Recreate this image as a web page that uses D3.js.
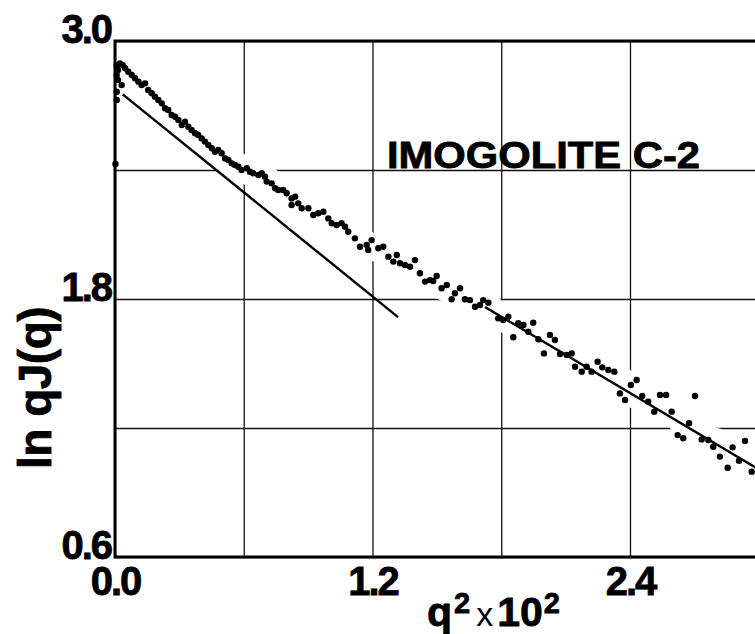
<!DOCTYPE html>
<html>
<head>
<meta charset="utf-8">
<script src="https://cdn.jsdelivr.net/npm/d3@7/dist/d3.min.js"></script>
<style>
  body { margin: 0; background: #fff; }
  svg { display: block; }
  text { font-family: "Liberation Sans", Arial, Helvetica, sans-serif; fill: #000; }
  .heavy { stroke: #000; stroke-width: 0.8px; }
</style>
</head>
<body>
<svg class="chart"></svg>
<script>
// q^2 x 10^2 vs ln qJ(q)
var points = [
    [0.002, 2.428], [0.008, 2.888], [0.023, 2.896], [0.036, 2.888], [0.014, 2.865],
    [0.008, 2.842], [0.014, 2.819], [0.031, 2.795], [0.008, 2.764], [0.008, 2.726],
    [0.047, 2.873], [0.062, 2.857], [0.078, 2.842], [0.093, 2.827], [0.109, 2.811],
    [0.124, 2.795], [0.140, 2.803], [0.155, 2.772], [0.171, 2.757], [0.186, 2.741],
    [0.202, 2.726], [0.218, 2.710], [0.233, 2.687], [0.248, 2.679], [0.264, 2.656],
    [0.280, 2.648], [0.295, 2.633], [0.311, 2.609], [0.326, 2.625], [0.342, 2.601],
    [0.357, 2.586], [0.373, 2.571], [0.388, 2.563], [0.404, 2.547], [0.419, 2.532],
    [0.435, 2.516], [0.451, 2.501], [0.466, 2.485], [0.481, 2.493], [0.497, 2.478],
    [0.513, 2.454], [0.528, 2.447], [0.544, 2.431], [0.559, 2.423], [0.575, 2.415],
    [0.590, 2.400], [0.614, 2.408], [0.629, 2.392], [0.644, 2.385], [0.668, 2.377],
    [0.684, 2.385], [0.699, 2.369], [0.707, 2.346], [0.730, 2.338], [0.746, 2.315],
    [0.761, 2.307], [0.784, 2.307], [0.800, 2.292], [0.823, 2.268], [0.839, 2.276],
    [0.823, 2.237], [0.854, 2.245], [0.870, 2.222], [0.901, 2.222], [0.924, 2.191],
    [0.947, 2.199], [0.971, 2.206], [0.994, 2.175], [1.010, 2.152], [1.033, 2.144],
    [1.056, 2.152], [1.072, 2.136], [1.087, 2.113], [1.118, 2.082], [1.142, 2.043],
    [1.173, 2.051], [1.180, 2.028], [1.196, 2.074], [1.227, 2.036], [1.250, 2.043],
    [1.274, 1.997], [1.297, 1.974], [1.313, 2.005], [1.328, 1.966], [1.351, 1.958],
    [1.375, 1.950], [1.398, 1.981], [1.421, 1.920], [1.445, 1.881], [1.468, 1.888],
    [1.483, 1.884], [1.499, 1.907], [1.522, 1.850], [1.546, 1.865], [1.569, 1.799],
    [1.584, 1.827], [1.608, 1.850], [1.631, 1.799], [1.654, 1.795], [1.678, 1.764],
    [1.701, 1.772], [1.716, 1.795], [1.740, 1.783], [1.786, 1.710], [1.809, 1.702],
    [1.833, 1.718], [1.856, 1.622], [1.879, 1.687], [1.903, 1.679], [1.926, 1.648],
    [1.949, 1.690], [1.973, 1.613], [1.999, 1.547], [2.027, 1.633], [2.050, 1.609],
    [2.074, 1.544], [2.105, 1.540], [2.128, 1.547], [2.144, 1.485], [2.175, 1.462],
    [2.198, 1.485], [2.221, 1.462], [2.249, 1.508], [2.271, 1.482], [2.299, 1.470],
    [2.327, 1.462], [2.353, 1.361], [2.377, 1.330], [2.404, 1.400], [2.431, 1.423],
    [2.457, 1.349], [2.485, 1.322], [2.513, 1.276], [2.540, 1.354], [2.568, 1.354],
    [2.594, 1.276], [2.622, 1.167], [2.648, 1.152], [2.675, 1.222], [2.703, 1.349],
    [2.734, 1.147], [2.765, 1.144], [2.788, 1.113], [2.819, 1.067], [2.855, 1.015],
    [2.878, 1.110], [2.908, 1.048], [2.936, 1.140], [2.967, 0.997]
];

// straight-line fits drawn on the plot
var smallQFit = [[0.036, 2.752], [1.319, 1.716]];
var largeQFit = [[1.724, 1.763], [2.985, 1.017]];

var xGrid = [0, 0.6, 1.2, 1.8, 2.4, 3.0];
var yGrid = [0.6, 1.2, 1.8, 2.4, 3.0];
var xLabels = [0, 1.2, 2.4];
var yLabels = [0.6, 1.8, 3.0];

var width = 755;
var height = 634;
var plotLeft = 115, plotTop = 41, plotBottom = 557;
var plotRight = plotLeft + 643.75;

var svg = d3.select(".chart")
    .attr("width", width)
    .attr("height", height);

var x = d3.scaleLinear().domain([0, 3.0]).range([plotLeft, plotRight]);
var y = d3.scaleLinear().domain([0.6, 3.0]).range([plotBottom, plotTop]);

// grid
var xAxis = d3.axisBottom(x)
    .tickValues(xGrid)
    .tickSize(-(plotBottom - plotTop))
    .tickFormat(function(d){
        return xLabels.indexOf(d) >= 0 ? d.toFixed(1) : "";
    });
var yAxis = d3.axisLeft(y)
    .tickValues(yGrid)
    .tickSize(-(plotRight - plotLeft))
    .tickFormat(function(d){
        return yLabels.indexOf(d) >= 0 ? d.toFixed(1) : "";
    });

var gx = svg.append("g")
    .attr("transform", "translate(0," + plotBottom + ")")
    .call(xAxis);
var gy = svg.append("g")
    .attr("transform", "translate(" + plotLeft + ",0)")
    .call(yAxis);

[gx, gy].forEach(function(g){
    g.select(".domain").remove();
    g.selectAll(".tick line")
        .attr("stroke", "#111")
        .attr("stroke-width", 1.3);
    g.selectAll(".tick text")
        .attr("class", "heavy")
        .style("font-family", "'Liberation Sans', Arial, sans-serif")
        .style("font-weight", "bold")
        .style("font-size", "40px")
        .style("letter-spacing", "-2px")
        .attr("fill", "#000");
});
gx.selectAll(".tick text").attr("y", 38).attr("dy", 0);
gy.selectAll(".tick text").attr("x", -4).attr("y", 1).attr("dy", 0);

// the grid is broken where the data band runs across it
var sorted = points.slice().sort(function(a, b){ return a[0] - b[0]; });
var band = sorted.map(function(p, i){
    var win = sorted.slice(Math.max(0, i - 6), i + 7).map(function(d){ return d[1]; });
    return [p[0], d3.median(win)];
});
svg.append("path")
    .datum(band)
    .attr("fill", "none")
    .attr("stroke", "#fff")
    .attr("stroke-width", 28)
    .attr("d", d3.line()
        .x(function(d){ return x(d[0]); })
        .y(function(d){ return y(d[1]); })
        .curve(d3.curveBasis));

// frame
svg.append("path")
    .attr("fill", "none")
    .attr("stroke", "#000")
    .attr("stroke-width", 3)
    .attr("d", "M" + plotRight + "," + plotTop + "H" + plotLeft + "V" + plotBottom + "H" + plotRight);

// fits
var line = d3.line()
    .x(function(d){ return x(d[0]); })
    .y(function(d){ return y(d[1]); });

[smallQFit, largeQFit].forEach(function(f){
    svg.append("path")
        .datum(f)
        .attr("fill", "none")
        .attr("stroke", "#000")
        .attr("stroke-width", 2.4)
        .attr("d", line);
});

svg.append("g")
    .selectAll("circle")
    .data(points)
    .enter()
    .append("circle")
    .attr("cx", function(d){ return x(d[0]); })
    .attr("cy", function(d){ return y(d[1]); })
    .attr("r", 3.2)
    .attr("fill", "#000");

// labels
svg.append("text")
    .attr("class", "heavy")
    .attr("x", 387)
    .attr("y", 168)
    .attr("textLength", 313)
    .attr("lengthAdjust", "spacingAndGlyphs")
    .style("font-weight", "bold")
    .style("font-size", "36px")
    .text("IMOGOLITE C-2");

svg.append("text")
    .attr("class", "heavy")
    .attr("transform", "translate(51,388) rotate(-90)")
    .attr("text-anchor", "middle")
    .style("font-weight", "bold")
    .style("font-size", "46px")
    .style("letter-spacing", "-0.5px")
    .text("ln qJ(q)");

var xt = svg.append("text")
    .attr("class", "heavy")
    .attr("x", 427)
    .attr("y", 626)
    .style("font-weight", "bold")
    .style("font-size", "41px");
xt.append("tspan").text("q");
xt.append("tspan").attr("dx", 2).attr("dy", -13).style("font-size", "29px").text("2");
xt.append("tspan").attr("dx", 6).attr("dy", 13).style("font-size", "34px").style("font-weight", "normal").style("stroke-width", "0px").text("x");
xt.append("tspan").attr("dx", 4).text("10");
xt.append("tspan").attr("dx", 1).attr("dy", -13).style("font-size", "29px").text("2");
</script>
</body>
</html>
